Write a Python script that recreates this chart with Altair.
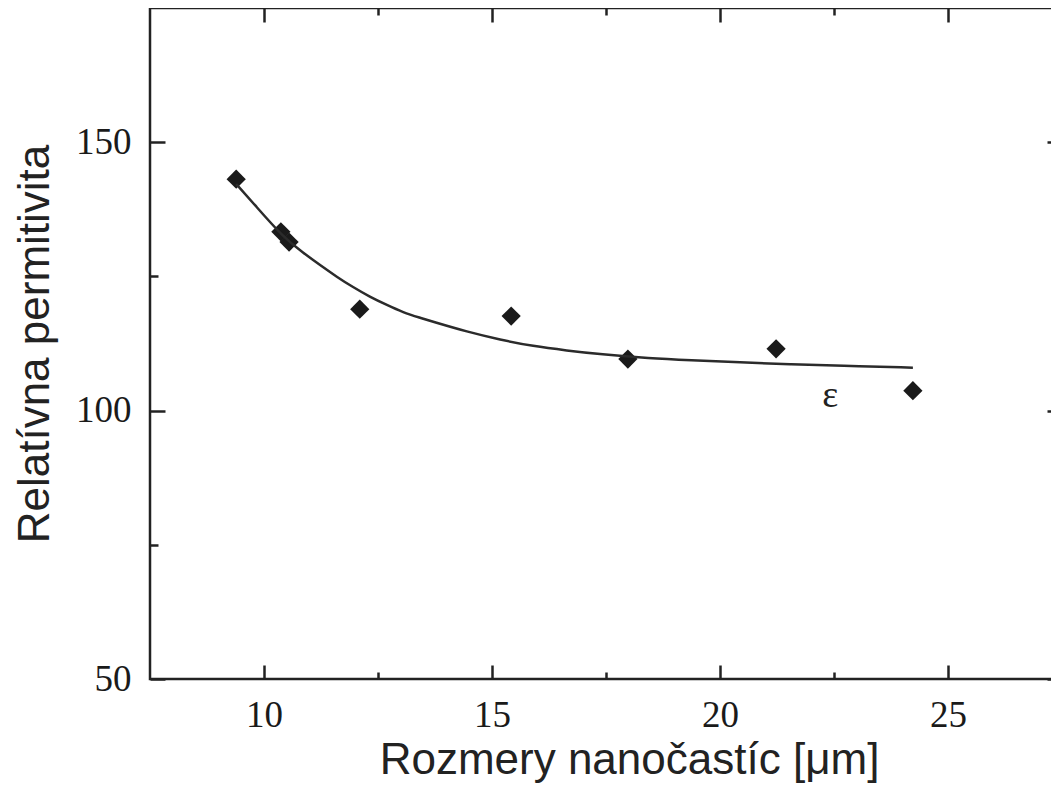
import altair as alt
import pandas as pd

# measured data points (diamonds)
pts_x = [9.39, 10.37, 10.55, 12.10, 15.42, 17.98, 21.23, 24.23]
pts_y = [143.1, 133.3, 131.4, 118.9, 117.6, 109.6, 111.5, 103.7]

# fitted curve
curve_x = [9.39, 9.76, 10.42, 10.86, 11.23, 11.60, 11.95, 12.32, 12.70, 13.05,
           13.42, 13.71, 14.45, 15.18, 15.90, 16.64, 17.37, 18.46, 19.34,
           20.44, 21.54, 22.63, 24.23]
curve_y = [142.2, 138.7, 132.3, 129.4, 127.1, 124.9, 123.0, 121.2, 119.65, 118.3,
           117.3, 116.55, 114.7, 113.2, 112.0, 111.2, 110.5, 109.75, 109.4,
           109.0, 108.6, 108.35, 108.0]

label_x = [22.42]
label_y = [102.8]
label_text = ["ε"]

x_major = [10, 15, 20, 25]
x_minor = [12.5, 17.5, 22.5]
y_major = [50, 100, 150]
y_minor = [75, 125]

x_domain = [7.5, 27.5]
y_domain = [50, 175]

pts = pd.DataFrame({"x": pts_x, "y": pts_y})
curve = pd.DataFrame({"x": curve_x, "y": curve_y})
lab = pd.DataFrame({"x": label_x, "y": label_y, "t": label_text})

XT = "Rozmery nanočastíc [μm]"
YT = "Relatívna permitivita"

xs = alt.Scale(domain=x_domain, nice=False, zero=False)
ys = alt.Scale(domain=y_domain, nice=False, zero=False)

TICKC = "#222222"
LABC = "#1a1a1a"

def xax(orient, values, size, labels=False):
    kw = dict(orient=orient, values=values, tickSize=size, offset=-size,
              domain=False, grid=False, ticks=True, tickColor=TICKC, tickWidth=2.5)
    if labels:
        kw.update(labels=True, labelFont="Liberation Serif", labelFontSize=37,
                  labelColor=LABC, labelPadding=18, title=XT,
                  titleFont="Liberation Sans", titleFontSize=44,
                  titleFontWeight="normal", titleColor="#222222", titlePadding=5,
                  titleX=479)
    else:
        kw.update(labels=False, title=None)
    return alt.Axis(**kw)

def yax(orient, values, size, labels=False):
    kw = dict(orient=orient, values=values, tickSize=size, offset=-size,
              domain=False, grid=False, ticks=True, tickColor=TICKC, tickWidth=2.5)
    if labels:
        kw.update(labels=True, labelFont="Liberation Serif", labelFontSize=37,
                  labelColor=LABC, labelPadding=19, title=YT,
                  titleFont="Liberation Sans", titleFontSize=44,
                  titleFontWeight="normal", titleColor="#222222", titlePadding=18)
    else:
        kw.update(labels=False, title=None)
    return alt.Axis(**kw)

points = alt.Chart(pts).mark_point(shape="diamond", filled=True, size=370,
                                   color="#1a1a1a", opacity=1).encode(
    x=alt.X("x:Q", scale=xs, axis=xax("bottom", x_major, 14, labels=True)),
    y=alt.Y("y:Q", scale=ys, axis=yax("left", y_major, 15, labels=True)),
)

line = alt.Chart(curve).mark_line(color="#2b2b2b", strokeWidth=2.5,
                                  interpolate="basis").encode(
    x=alt.X("x:Q", scale=xs, axis=xax("top", x_major, 14)),
    y=alt.Y("y:Q", scale=ys, axis=yax("right", y_major, 15)),
)

text = alt.Chart(lab).mark_text(font="Liberation Serif", fontSize=38,
                                color="#222222", baseline="middle",
                                align="center").encode(
    x=alt.X("x:Q", scale=xs, axis=xax("bottom", x_minor, 7)),
    y=alt.Y("y:Q", scale=ys, axis=yax("left", y_minor, 8)),
    text="t:N",
)

ghost = alt.Chart(pts).mark_point(opacity=0).encode(
    x=alt.X("x:Q", scale=xs, axis=xax("top", x_minor, 7)),
    y=alt.Y("y:Q", scale=ys, axis=yax("right", y_minor, 8)),
)

chart = alt.layer(points, line, text, ghost).resolve_axis(
    x="independent", y="independent"
).properties(
    width=912, height=671,
    autosize=alt.AutoSizeParams(type="none"),
    padding={"left": 142, "top": 0, "right": -11, "bottom": 108},
    background="white",
).configure_view(stroke="#222222", strokeWidth=2.5)

chart.save("out.html", embed_options={"renderer": "svg", "actions": False})
